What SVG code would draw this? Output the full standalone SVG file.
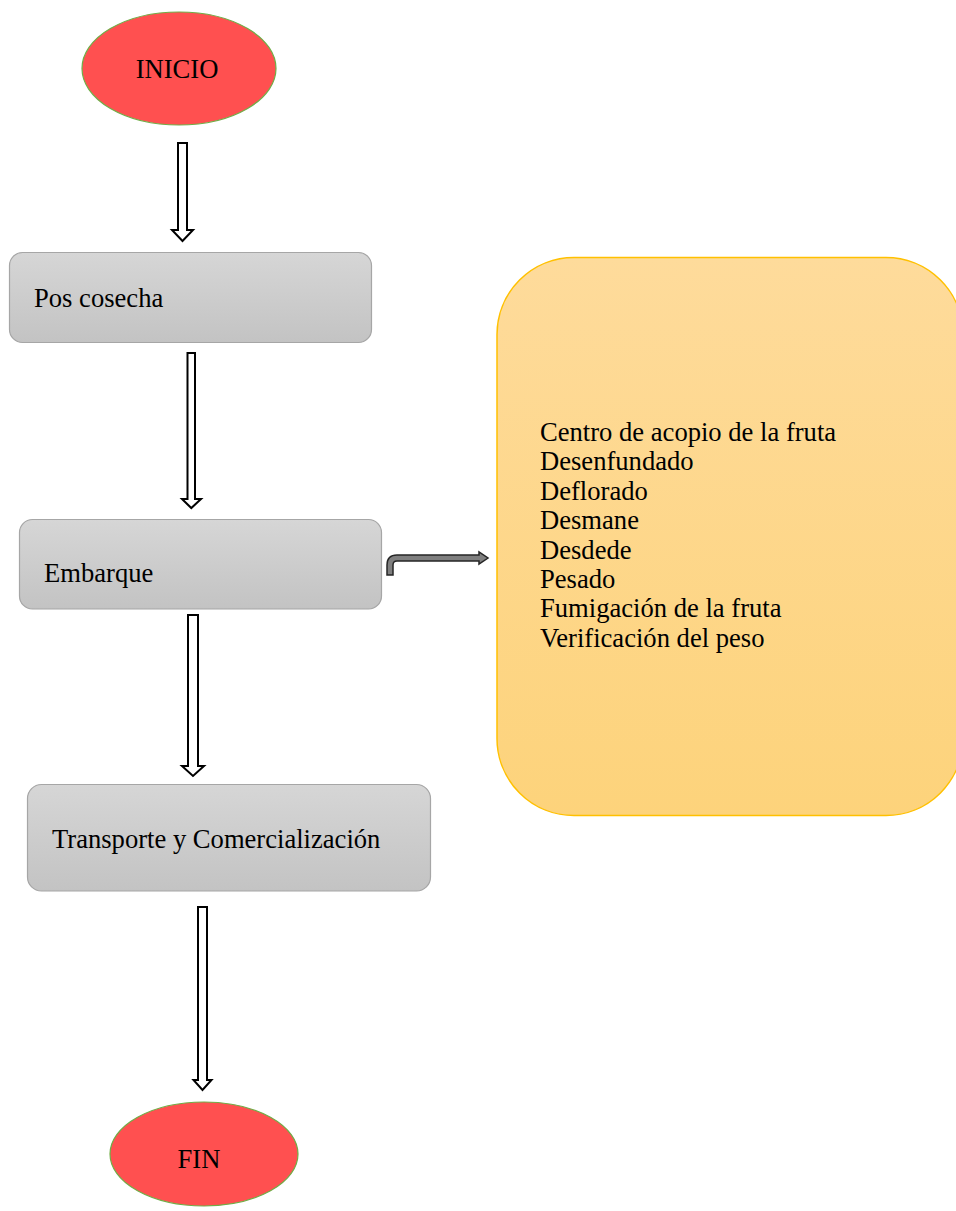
<svg xmlns="http://www.w3.org/2000/svg" width="956" height="1211" viewBox="0 0 956 1211">
<defs>
<linearGradient id="gGray" x1="0" y1="0" x2="0" y2="1">
<stop offset="0" stop-color="#d6d6d6"/>
<stop offset="1" stop-color="#c3c3c3"/>
</linearGradient>
<linearGradient id="gYel" x1="0" y1="0" x2="0" y2="1">
<stop offset="0" stop-color="#fedb9b"/>
<stop offset="1" stop-color="#fdd37b"/>
</linearGradient>
<style>
text{font-family:"Liberation Serif","Times New Roman",serif;font-size:26.6px;fill:#000}
.term{fill:#ff5050;stroke:#70ad47;stroke-width:1.2}
.proc{fill:url(#gGray);stroke:#a6a6a6;stroke-width:1.2}
.note{fill:url(#gYel);stroke:#ffc000;stroke-width:1.5}
.arr{fill:#fff;stroke:#000;stroke-width:2;stroke-linejoin:miter}
.bent{fill:#7f7f7f;stroke:#262626;stroke-width:1.5;stroke-linejoin:miter}
</style>
</defs>
<g id="inicio">
<ellipse class="term" cx="179" cy="68.5" rx="97" ry="56.5"/>
<text x="177" y="78" text-anchor="middle">INICIO</text>
</g>
<g id="poscosecha">
<rect class="proc" x="9.5" y="252.5" width="362" height="90" rx="13"/>
<text x="34" y="307">Pos cosecha</text>
</g>
<g id="embarque">
<rect class="proc" x="19.5" y="519.5" width="362" height="89.5" rx="13"/>
<text x="44" y="582">Embarque</text>
</g>
<g id="transporte">
<rect class="proc" x="27.5" y="784.5" width="403" height="106.5" rx="14"/>
<text x="52" y="848">Transporte y Comercialización</text>
</g>
<g id="actividades">
<rect class="note" x="497" y="257.5" width="466" height="558" rx="77"/>
<text x="540" y="441">Centro de acopio de la fruta</text>
<text x="540" y="470.4">Desenfundado</text>
<text x="540" y="499.8">Deflorado</text>
<text x="540" y="529.2">Desmane</text>
<text x="540" y="558.6">Desdede</text>
<text x="540" y="588">Pesado</text>
<text x="540" y="617.4">Fumigación de la fruta</text>
<text x="540" y="646.8">Verificación del peso</text>
</g>
<g id="fin">
<ellipse class="term" cx="204" cy="1154" rx="94" ry="52"/>
<text x="199" y="1168" text-anchor="middle">FIN</text>
</g>
<g id="connectors">
<path class="arr" d="M178,143 H187 V230 H193 L182.5,241 L172,230 H178 Z"/>
<path class="arr" d="M187.5,353 H195 V499 H201 L191.3,508 L182,499 H187.5 Z"/>
<path class="arr" d="M188,615 H198 V766 H204 L193,776 L182,766 H188 Z"/>
<path class="arr" d="M198,907 H207 V1080 H211.5 L202.5,1090 L193.5,1080 H198 Z"/>
<path class="bent" d="M387,575 V565 Q387,555 397,555 H479 V552 L488,558 L479,564 V561 H397 Q393,561 393,565 V575 Z"/>
</g>
</svg>
